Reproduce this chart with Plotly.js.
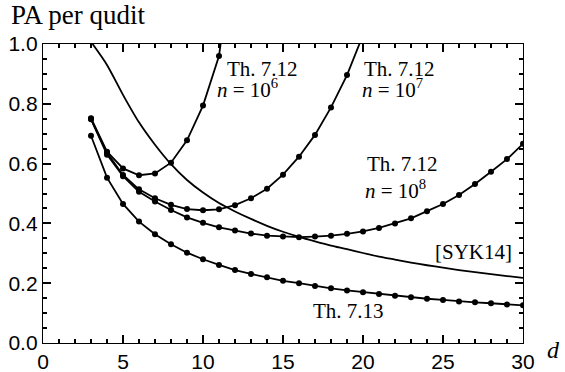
<!DOCTYPE html>
<html>
<head>
<meta charset="utf-8">
<script src="https://cdn.plot.ly/plotly-3.0.1.min.js"></script>
<style>
  html, body { margin: 0; padding: 0; background: #fff; }
  #chart { width: 565px; height: 372px; }
</style>
</head>
<body>
<div id="chart"></div>
<script>
// values
var d = [3,4,5,6,7,8,9,10,11,12,13,14,15,16,17,18,19,20,21,22,23,24,25,26,27,28,29,30];
var th713 = [0.693,0.553,0.465,0.406,0.364,0.330,0.302,0.280,0.261,0.244,0.231,0.220,0.208,0.200,
             0.191,0.183,0.176,0.170,0.164,0.158,0.153,0.148,0.144,0.139,0.136,0.133,0.129,0.126];
var n8 = [0.748,0.630,0.558,0.506,0.473,0.445,0.420,0.402,0.387,0.376,0.366,0.359,0.356,0.354,
          0.356,0.359,0.365,0.373,0.385,0.400,0.417,0.441,0.465,0.495,0.532,0.573,0.615,0.666];

var d7 = [3,4,5,6,7,8,9,10,11,12,13,14,15,16,17,18,19,20];
var n7 = [0.750,0.636,0.562,0.514,0.484,0.462,0.448,0.444,0.447,0.461,0.484,0.516,0.563,0.623,0.696,0.788,0.896,1.03];

var d6 = [3,4,5,6,7,8,9,10,11,12];
var n6 = [0.752,0.640,0.584,0.561,0.567,0.603,0.678,0.794,0.960,1.36];

var dSyk = [3.1,4,5,6,7,8,9,10,11,12,13,14,15,16,17,18,19,20,21,22,23,24,25,26,27,28,29,30];
var syk = [1.0,0.93,0.83,0.738,0.663,0.598,0.545,0.503,0.468,0.44,0.415,0.392,0.372,0.355,
           0.34,0.326,0.314,0.301,0.289,0.279,0.269,0.26,0.252,0.244,0.237,0.23,0.224,0.218];

var serif = "Liberation Serif, Times New Roman, serif";
var sans = "Liberation Sans, Arial, sans-serif";

function dotted(x, y, xa, ya) {
  return {x: x, y: y, mode: "lines+markers", type: "scatter", xaxis: xa, yaxis: ya,
    line: {color: "black", width: 1.8},
    marker: {color: "black", size: 6}};
}

// the overlay axes all share the same ranges; they only add the extra tick rows
var data = [
  dotted(d, th713, "x3", "y3"),
  dotted(d, n8, "x4", "y4"),
  dotted(d7, n7, "x", "y"),
  dotted(d6, n6, "x", "y"),
  {x: dSyk, y: syk, mode: "lines", type: "scatter", xaxis: "x2", yaxis: "y2",
   line: {color: "black", width: 1.8, shape: "spline", smoothing: 0.8}}
];

function label(x, y, text) {
  return {x: x, y: y, xref: "x", yref: "y", text: text, showarrow: false,
    xanchor: "left", yanchor: "middle", font: {family: serif, size: 21, color: "black"}};
}

function tickAxis(extra) {
  return Object.assign({
    showline: false, ticks: "inside", tickwidth: 1.5, tickcolor: "#000000",
    showticklabels: false, gridcolor: "rgba(0,0,0,0)", zeroline: false
  }, extra);
}

var layout = {
  width: 565, height: 372,
  margin: {l: 43, r: 42, t: 44, b: 29},
  showlegend: false,
  paper_bgcolor: "white", plot_bgcolor: "white",
  xaxis: {
    range: [0, 30], dtick: 5,
    showline: true, linecolor: "black", linewidth: 1.3, mirror: true,
    ticks: "inside", ticklen: 8, tickwidth: 1.5, tickcolor: "#000000",
    gridcolor: "rgba(0,0,0,0)", zeroline: false,
    tickfont: {family: sans, size: 21, color: "black"}
  },
  yaxis: {
    range: [0, 1], dtick: 0.2, tickformat: ".1f",
    showline: true, linecolor: "black", linewidth: 1.3, mirror: true,
    ticks: "inside", ticklen: 8, tickwidth: 1.5, tickcolor: "#000000",
    gridcolor: "rgba(0,0,0,0)", zeroline: false,
    tickfont: {family: sans, size: 21, color: "black"}
  },
  // major ticks on top / right
  xaxis2: tickAxis({overlaying: "x", anchor: "y2", side: "top", range: [0, 30], dtick: 5, ticklen: 8}),
  yaxis2: tickAxis({overlaying: "y", anchor: "x2", side: "right", range: [0, 1], dtick: 0.2, ticklen: 8}),
  // minor ticks bottom / left
  xaxis3: tickAxis({overlaying: "x", anchor: "y3", side: "bottom", range: [0, 30], dtick: 1, ticklen: 4}),
  yaxis3: tickAxis({overlaying: "y", anchor: "x3", side: "left", range: [0, 1], dtick: 0.05, ticklen: 4}),
  // minor ticks top / right
  xaxis4: tickAxis({overlaying: "x", anchor: "y4", side: "top", range: [0, 30], dtick: 1, ticklen: 4}),
  yaxis4: tickAxis({overlaying: "y", anchor: "x4", side: "right", range: [0, 1], dtick: 0.05, ticklen: 4}),
  annotations: [
    label(11.36, 0.918, "Th. 7.12"),
    label(10.73, 0.850, "<i>n</i> = 10<sup>6</sup>"),
    label(19.96, 0.918, "Th. 7.12"),
    label(19.79, 0.850, "<i>n</i> = 10<sup>7</sup>"),
    label(20.11, 0.600, "Th. 7.12"),
    label(20.0, 0.515, "<i>n</i> = 10<sup>8</sup>"),
    label(24.38, 0.305, "[SYK14]"),
    label(16.78, 0.107, "Th. 7.13"),
    {x: -0.0715, y: 1.098, xref: "paper", yref: "paper", text: "PA per qudit",
     showarrow: false, xanchor: "left", yanchor: "middle",
     font: {family: serif, size: 27, color: "black"}},
    {x: 1.064, y: -0.023, xref: "paper", yref: "paper", text: "<i>d</i>",
     showarrow: false, xanchor: "center", yanchor: "middle",
     font: {family: serif, size: 24, color: "black"}}
  ]
};

Plotly.newPlot("chart", data, layout, {displayModeBar: false});
</script>
</body>
</html>
